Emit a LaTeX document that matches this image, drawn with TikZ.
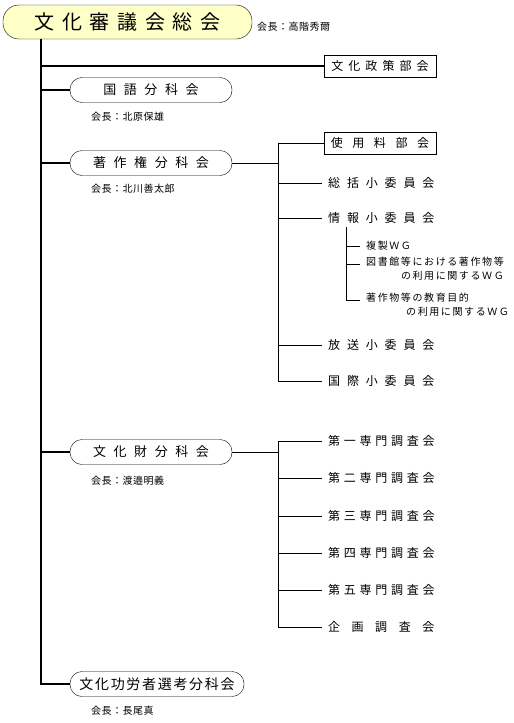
\documentclass[tikz,border=0pt]{standalone}
\usepackage{fontspec}
\newfontfamily\jp{Noto Sans CJK JP}
\definecolor{kaigi}{RGB}{255,255,200}
% size, letter spacing, line spacing
\newcommand{\jfont}[3][1]{\jp\fontsize{#2}{13.5}\selectfont\addfontfeature{LetterSpace=#3}}

\begin{document}
\begin{tikzpicture}[
  x=1pt, y=-1pt,
  soukai/.style={draw, fill=kaigi, rounded corners=16pt, minimum width=249pt, minimum height=34pt, inner sep=0pt, font=\jfont{20}{38}},
  bunka/.style={draw, rounded corners=12pt, minimum width=162pt, minimum height=25pt, inner sep=0pt, font=\jfont{13}{58}},
  bukai/.style={draw, minimum width=112pt, minimum height=22pt, inner sep=0pt},
  iin/.style={anchor=west, inner xsep=6pt, inner ysep=0pt},
  kaicho/.style={anchor=west, inner sep=0pt, font=\jfont{10}{5}},
  wg/.style={inner xsep=6pt, inner ysep=0pt, font=\jfont{10}{16}},
  trunk/.style={line width=2.5pt},
  branch/.style={line width=0.9pt}
]
  \useasboundingbox (0,0) rectangle (514,723);

  % General assembly
  \node[soukai] (soukai) at (127.5,22) {文化審議会総会};
  \node[kaicho] at (257,27) {会長：高階秀爾};

  % Subdivisions
  \node[bukai, font=\jfont{12}{42}] (seisaku) at (380,66) {文化政策部会};
  \node[bunka] (kokugo) at (151,90) {国語分科会};
  \node[kaicho] at (91,117) {会長：北原保雄};
  \node[bunka] (chosaku) at (151,163) {著作権分科会};
  \node[kaicho] at (91,189) {会長：北川善太郎};
  \node[bunka] (bunkazai) at (151,452) {文化財分科会};
  \node[kaicho] at (91,481) {会長：渡邉明義};
  \node[bunka, minimum width=174pt, font=\jfont{14}{12}] (kouro) at (157,684) {文化功労者選考分科会};
  \node[kaicho] at (91,711) {会長：長尾真};

  % Copyright subdivision
  \node[bukai, font=\jfont{12}{80}] (shiyo) at (380,143) {使用料部会};
  \node[iin, font=\jfont{12}{57}] (sokatsu) at (322,183) {総括小委員会};
  \node[iin, font=\jfont{12}{57}] (joho) at (322,218) {情報小委員会};
  \node[iin, font=\jfont{12}{57}] (hoso) at (322,345) {放送小委員会};
  \node[iin, font=\jfont{12}{57}] (kokusai) at (322,381) {国際小委員会};

  % Working groups
  \coordinate (ws0) at (346,227);
  \coordinate (wg1) at (360,246);
  \coordinate (wg2) at (360,264);
  \coordinate (wg3) at (360,300);
  \node[wg, anchor=west] (fukusei) at (wg1) {複製ＷＧ};
  \node[wg, anchor=north west, align=right] (toshokan) at (360,257) {図書館等における著作物等\\の利用に関するＷＧ};
  \node[wg, anchor=north west, align=left] (kyoiku) at (360,293) {著作物等の教育目的\\\hspace*{40pt}の利用に関するＷＧ};

  % Cultural properties subdivision
  \foreach \i/\k/\y in {1/一/441, 2/二/478, 3/三/516, 4/四/553, 5/五/590}
    \node[iin, font=\jfont{12}{31}] (senmon\i) at (322,\y) {第\k 専門調査会};
  \node[iin, font=\jfont{12}{96}] (kikaku) at (322,627) {企画調査会};

  % Connections
  \coordinate (t) at (41,0);
  \draw[trunk] (soukai.south -| t) |- (kouro.west);
  \foreach \n in {seisaku, kokugo, chosaku, bunkazai}
    \draw[trunk] (t |- \n.west) -- (\n.west);

  \coordinate (cs) at (278,0);
  \draw[branch] (chosaku.east) -- (chosaku.east -| cs);
  \draw[branch] (cs |- shiyo.west) -- (cs |- kokusai.west);
  \foreach \n in {shiyo, sokatsu, joho, hoso, kokusai}
    \draw[branch] (cs |- \n.west) -- (\n.west);

  \draw[branch] (ws0) -- (ws0 |- wg3);
  \foreach \n in {wg1, wg2, wg3}
    \draw[branch] (ws0 |- \n) -- (\n);

  \coordinate (bs) at (278,0);
  \draw[branch] (bunkazai.east) -- (bunkazai.east -| bs);
  \draw[branch] (bs |- senmon1.west) -- (bs |- kikaku.west);
  \foreach \n in {senmon1, senmon2, senmon3, senmon4, senmon5, kikaku}
    \draw[branch] (bs |- \n.west) -- (\n.west);
\end{tikzpicture}
\end{document}
